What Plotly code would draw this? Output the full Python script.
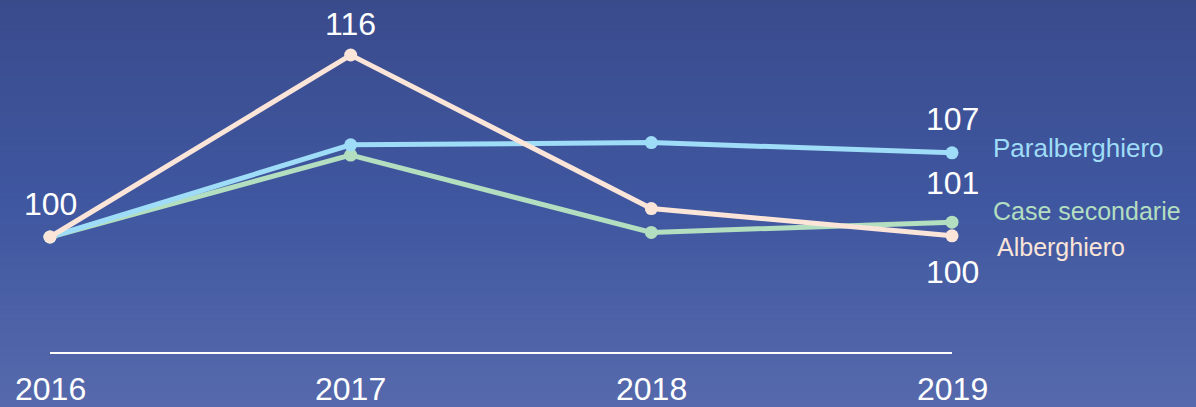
import plotly.graph_objects as go

years = [2016, 2017, 2018, 2019]
paralberghiero = [100, 108.1, 108.3, 107.4]
case_secondarie = [100, 107.2, 100.4, 101.3]
alberghiero = [100, 116, 102.5, 100.1]

series_names = ["Case secondarie", "Paralberghiero", "Alberghiero"]
series_values = [case_secondarie, paralberghiero, alberghiero]
series_colors = ["#b3dfc0", "#9fdcf7", "#fbe4d8"]

W, H = 1196, 407
fig = go.Figure()

# gradient background bands
stops = [(0.0, (0x3a, 0x4b, 0x8c)), (0.5, (0x3f, 0x57, 0xa0)), (1.0, (0x56, 0x69, 0xac))]
def col_at(t):
    for (t0, c0), (t1, c1) in zip(stops[:-1], stops[1:]):
        if t0 <= t <= t1:
            f = (t - t0) / (t1 - t0)
            return "rgb(%d,%d,%d)" % tuple(round(a + (b - a) * f) for a, b in zip(c0, c1))
    return "rgb(%d,%d,%d)" % stops[-1][1]

N = 80
shapes = []
for i in range(N):
    t = (i + 0.5) / N
    shapes.append(dict(type="rect", xref="paper", yref="paper", x0=0, x1=1,
                       y0=1 - (i + 1) / N - 0.002, y1=1 - i / N + 0.002,
                       fillcolor=col_at(t), line=dict(width=0), layer="below"))

# baseline
shapes.append(dict(type="line", xref="x", yref="paper", x0=years[0], x1=years[-1],
                   y0=1 - 353 / H, y1=1 - 353 / H, line=dict(color="white", width=2), layer="above"))

for name, vals, c in zip(series_names, series_values, series_colors):
    fig.add_trace(go.Scatter(x=years, y=vals, mode="lines+markers", name=name,
                             line=dict(color=c, width=5), marker=dict(color=c, size=13),
                             hoverinfo="x+y+name"))

num_font = dict(family="Liberation Sans, Arial", size=32, color="white")
lab_font_size = 25
annotations = []
# value labels
annotations.append(dict(x=years[0], y=alberghiero[0], text="100", showarrow=False, yshift=33, font=num_font))
annotations.append(dict(x=years[1], y=alberghiero[1], text="116", showarrow=False, yshift=31, font=num_font))
annotations.append(dict(x=years[3], y=paralberghiero[3], text="107", showarrow=False, yshift=34, font=num_font))
annotations.append(dict(x=years[3], y=case_secondarie[3], text="101", showarrow=False, yshift=39, font=num_font))
annotations.append(dict(x=years[3], y=alberghiero[3], text="100", showarrow=False, yshift=-36, font=num_font))
# series labels
annotations.append(dict(x=years[3], y=paralberghiero[3], text="Paralberghiero", showarrow=False,
                        xanchor="left", xshift=39, yshift=5,
                        font=dict(family="Liberation Sans, Arial", size=26, color=series_colors[1])))
annotations.append(dict(x=years[3], y=case_secondarie[3], text="Case secondarie", showarrow=False,
                        xanchor="left", xshift=39, yshift=11,
                        font=dict(family="Liberation Sans, Arial", size=lab_font_size, color=series_colors[0])))
annotations.append(dict(x=years[3], y=alberghiero[3], text="Alberghiero", showarrow=False,
                        xanchor="left", xshift=43, yshift=-11,
                        font=dict(family="Liberation Sans, Arial", size=lab_font_size, color=series_colors[2])))
# year labels
for yv in years:
    annotations.append(dict(x=yv, xref="x", y=1 - 389 / H, yref="paper", text=str(yv), showarrow=False,
                            yanchor="middle", font=dict(family="Liberation Sans, Arial", size=32, color="white")))

px_per_year = (952 - 50) / 3
x0 = years[0] - 50 / px_per_year
x1 = x0 + W / px_per_year
px_per_unit = (237 - 55) / 16
y_top = 100 + 237 / px_per_unit
y_bot = 100 - (H - 237) / px_per_unit

fig.update_layout(
    width=W, height=H,
    margin=dict(l=0, r=0, t=0, b=0),
    paper_bgcolor="#3f57a0", plot_bgcolor="rgba(0,0,0,0)",
    showlegend=False,
    shapes=shapes, annotations=annotations,
    xaxis=dict(range=[x0, x1], visible=False, fixedrange=True),
    yaxis=dict(range=[y_bot, y_top], visible=False, fixedrange=True),
)

fig.write_html("out.html", config={"displayModeBar": False},
               post_script="document.body.style.margin='0';document.body.style.overflow='hidden';")
